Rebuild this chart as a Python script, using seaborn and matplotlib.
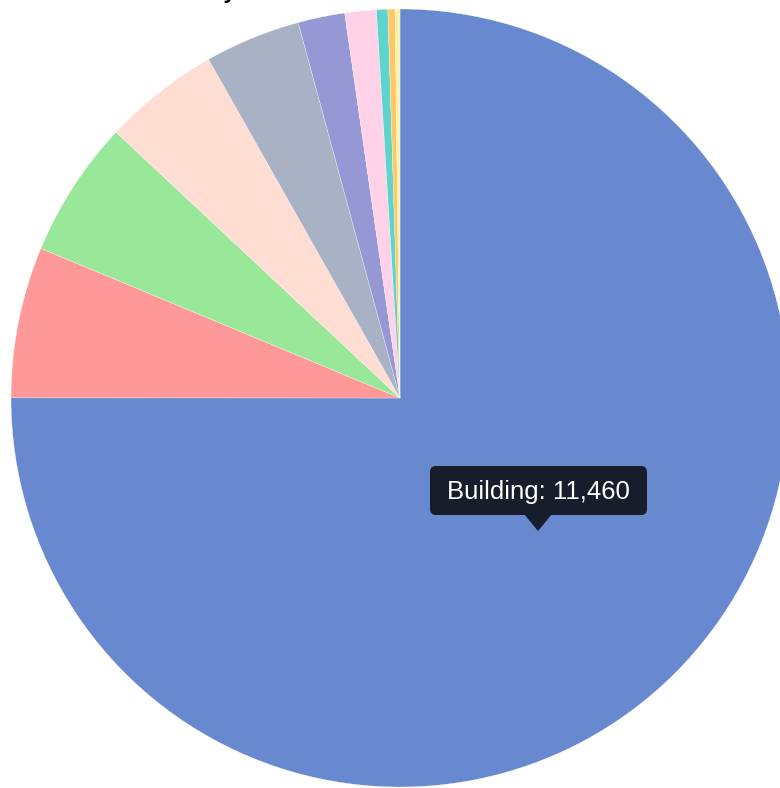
import numpy as np
import pandas as pd
import seaborn as sns
from matplotlib import pyplot as plt
from matplotlib.patches import FancyBboxPatch, Polygon

sectors = ["Building", "Transport", "Industry", "Agriculture", "Energy",
           "Waste", "Land Use", "Aviation", "Shipping", "Other"]
values = [11460, 959, 870, 739, 607, 297, 199, 72, 45, 31]
colors = ["#6889cf", "#ff9999", "#99e899", "#ffddd2", "#a8b2c4",
          "#9698d6", "#ffd2e8", "#5ed4cc", "#ffc864", "#fff0aa"]

df = pd.DataFrame({"sector": sectors, "value": values, "color": colors})

sns.set_theme(style="white")
plt.rcParams["font.family"] = ["Liberation Sans", "DejaVu Sans"]

W, H = 780, 788
fig = plt.figure(figsize=(W / 100, H / 100), dpi=100)
ax = fig.add_axes([0, 0, 1, 1])

cx, cy, r = 400, H - 398, 389
ax.pie(df["value"], colors=df["color"], startangle=90, counterclock=False,
       center=(cx, cy), radius=r, frame=True,
       wedgeprops=dict(edgecolor="white", linewidth=0.2))
ax.set_xlim(0, W)
ax.set_ylim(0, H)
ax.set_aspect("equal")
ax.axis("off")

# tooltip for the hovered slice
tip_col = "#181d2b"
bx0, bx1, by0, by1 = 430, 647, H - 515, H - 466
ax.add_patch(FancyBboxPatch((bx0 + 6, by0 + 6), bx1 - bx0 - 12, by1 - by0 - 12,
                            boxstyle="round,pad=6", fc=tip_col, ec="none", zorder=5))
ax.add_patch(Polygon([(524, by0 + 1), (552, by0 + 1), (538, H - 531)],
                     closed=True, fc=tip_col, ec="none", zorder=5))
ax.text((bx0 + bx1) / 2, (by0 + by1) / 2 - 1, f"{df.sector[0]}: {df.value[0]:,}",
        color="white", fontsize=18.5, ha="center", va="center", zorder=6)

# title, mostly clipped off the top edge
fig.text(236 / W, 1.002, "by", ha="right", va="baseline", fontsize=16,
         color="black", fontweight="bold")

fig.savefig("out.png", dpi=100)
